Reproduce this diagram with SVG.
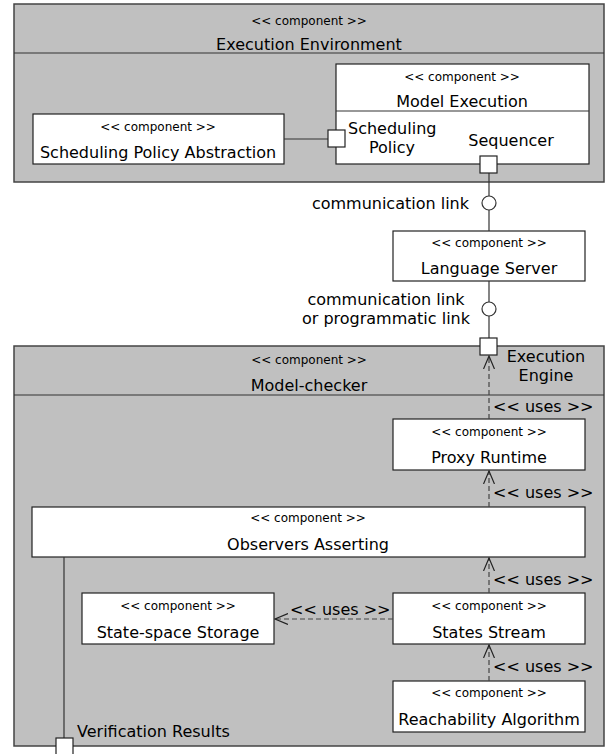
<svg xmlns="http://www.w3.org/2000/svg" width="613" height="754" viewBox="0 0 613 754">
<defs>
<marker id="open" viewBox="0 0 14 12" refX="13" refY="6" markerWidth="14" markerHeight="12" markerUnits="userSpaceOnUse" orient="auto">
<path d="M0,0.5 L13,6 L0,11.5" fill="none" stroke="#222" stroke-width="1.2"/>
</marker>
<style>
.cont{fill:#c0c0c0;stroke:#444;stroke-width:1.5}
.box{fill:#fff;stroke:#222;stroke-width:1.2}
.port{fill:#fff;stroke:#222;stroke-width:1.2}
.ln{fill:none;stroke:#333;stroke-width:1.2}
.dash{fill:none;stroke:#444;stroke-width:1.2;stroke-dasharray:5,3}
text{font-family:"DejaVu Sans","Liberation Sans",sans-serif;fill:#000}
.st{font-size:12px;text-anchor:middle}
.nm{font-size:16px;text-anchor:middle}
.lb{font-size:16px}
</style>
</defs>
<g id="execution-environment">
<rect class="cont" x="14" y="4" width="590" height="178"/>
<line class="ln" x1="14" y1="53" x2="604" y2="53"/>
<text class="st" x="309" y="25">&lt;&lt; component &gt;&gt;</text>
<text class="nm" x="309" y="50">Execution Environment</text>
</g>
<g id="model-execution">
<rect class="box" x="336" y="64" width="253" height="100"/>
<line class="ln" x1="336" y1="111" x2="589" y2="111"/>
<text class="st" x="462" y="81">&lt;&lt; component &gt;&gt;</text>
<text class="nm" x="462" y="107">Model Execution</text>
<text class="lb" x="348" y="134">Scheduling</text>
<text class="lb" x="392" y="153" text-anchor="middle">Policy</text>
<text class="lb" x="511" y="146" text-anchor="middle">Sequencer</text>
</g>
<g id="scheduling-policy-abstraction">
<rect class="box" x="33" y="114" width="251" height="50"/>
<text class="st" x="158" y="131">&lt;&lt; component &gt;&gt;</text>
<text class="nm" x="158" y="158">Scheduling Policy Abstraction</text>
</g>
<g id="language-server">
<rect class="box" x="393" y="231" width="192" height="50"/>
<text class="st" x="489" y="247">&lt;&lt; component &gt;&gt;</text>
<text class="nm" x="489" y="274">Language Server</text>
</g>
<g id="model-checker">
<rect class="cont" x="14" y="346" width="590" height="400"/>
<line class="ln" x1="14" y1="395" x2="604" y2="395"/>
<text class="st" x="309" y="364">&lt;&lt; component &gt;&gt;</text>
<text class="nm" x="309" y="391">Model-checker</text>
<text class="lb" x="546" y="362" text-anchor="middle">Execution</text>
<text class="lb" x="546" y="381" text-anchor="middle">Engine</text>
<text class="lb" x="77" y="737">Verification Results</text>
</g>
<g id="proxy-runtime">
<rect class="box" x="393" y="419" width="192" height="51"/>
<text class="st" x="489" y="436">&lt;&lt; component &gt;&gt;</text>
<text class="nm" x="489" y="463">Proxy Runtime</text>
</g>
<g id="observers-asserting">
<rect class="box" x="32" y="507" width="553" height="50"/>
<text class="st" x="308" y="522">&lt;&lt; component &gt;&gt;</text>
<text class="nm" x="308" y="550">Observers Asserting</text>
</g>
<g id="state-space-storage">
<rect class="box" x="82" y="593" width="192" height="51"/>
<text class="st" x="178" y="610">&lt;&lt; component &gt;&gt;</text>
<text class="nm" x="178" y="638">State-space Storage</text>
</g>
<g id="states-stream">
<rect class="box" x="393" y="593" width="192" height="51"/>
<text class="st" x="489" y="610">&lt;&lt; component &gt;&gt;</text>
<text class="nm" x="489" y="638">States Stream</text>
</g>
<g id="reachability-algorithm">
<rect class="box" x="393" y="681" width="192" height="51"/>
<text class="st" x="489" y="697">&lt;&lt; component &gt;&gt;</text>
<text class="nm" x="489" y="725">Reachability Algorithm</text>
</g>
<g id="connectors">
<line class="ln" x1="284" y1="139" x2="328" y2="139"/>
<line class="ln" x1="489" y1="173" x2="489" y2="196"/>
<circle cx="489" cy="203" r="7" fill="#fff" stroke="#333" stroke-width="1.2"/>
<line class="ln" x1="489" y1="210" x2="489" y2="231"/>
<text class="lb" x="469" y="209" text-anchor="end">communication link</text>
<line class="ln" x1="489" y1="281" x2="489" y2="302"/>
<circle cx="489" cy="309" r="7" fill="#fff" stroke="#333" stroke-width="1.2"/>
<line class="ln" x1="489" y1="316" x2="489" y2="338"/>
<text class="lb" x="386" y="305" text-anchor="middle">communication link</text>
<text class="lb" x="470" y="324" text-anchor="end">or programmatic link</text>
<line class="ln" x1="64" y1="557" x2="64" y2="738"/>
<line class="dash" x1="489" y1="419" x2="489" y2="356" marker-end="url(#open)"/>
<text class="lb" x="493" y="412">&lt;&lt; uses &gt;&gt;</text>
<line class="dash" x1="489" y1="507" x2="489" y2="471" marker-end="url(#open)"/>
<text class="lb" x="493" y="498">&lt;&lt; uses &gt;&gt;</text>
<line class="dash" x1="489" y1="593" x2="489" y2="558" marker-end="url(#open)"/>
<text class="lb" x="493" y="585">&lt;&lt; uses &gt;&gt;</text>
<line class="dash" x1="489" y1="681" x2="489" y2="645" marker-end="url(#open)"/>
<text class="lb" x="493" y="672">&lt;&lt; uses &gt;&gt;</text>
<line class="dash" x1="393" y1="619" x2="275" y2="619" marker-end="url(#open)"/>
<text class="lb" x="290" y="615">&lt;&lt; uses &gt;&gt;</text>
</g>
<g id="ports">
<rect class="port" x="328" y="130" width="17" height="17"/>
<rect class="port" x="480" y="156" width="17" height="17"/>
<rect class="port" x="480" y="338" width="17" height="17"/>
<rect class="port" x="56" y="738" width="17" height="17"/>
</g>
</svg>
